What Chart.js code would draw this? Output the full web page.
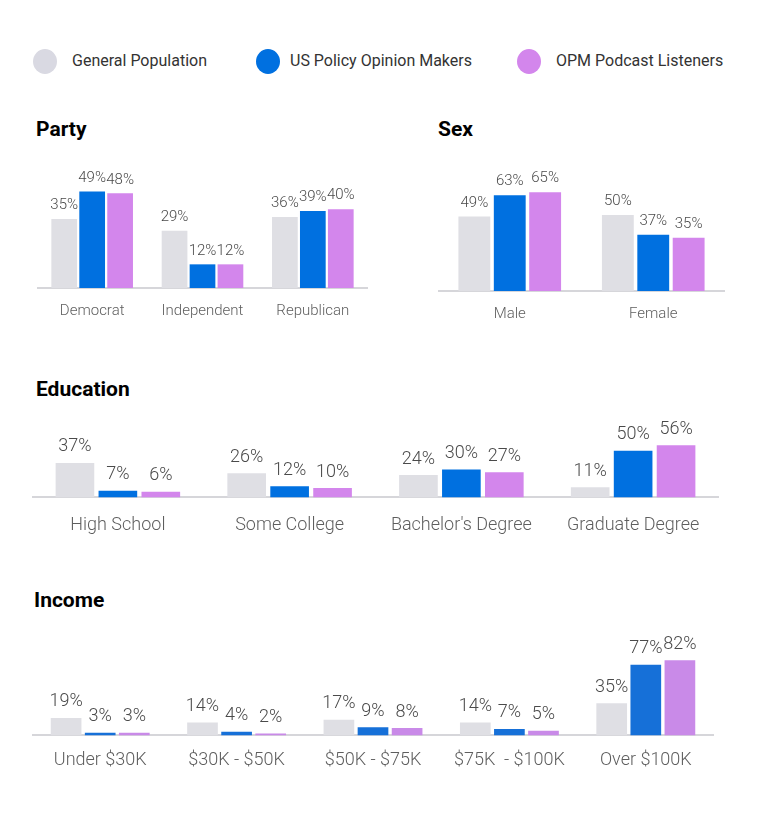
<!DOCTYPE html>
<html>
<head>
<meta charset="utf-8">
<script src="https://cdn.jsdelivr.net/npm/chart.js@4"></script>
<style>
  body { margin: 0; background: #fff; font-family: Roboto, sans-serif; }
  #page { position: relative; width: 760px; height: 817px; }
  .box { position: absolute; }
  .title { position: absolute; font: 700 21px Roboto, sans-serif; color: #000; }
  .leg { position: absolute; top: 49px; font: 400 16px Roboto, sans-serif; color: #333; line-height: 24px; }
  .leg span { position: absolute; top: 0; width: 24px; height: 25px; border-radius: 50%; }
  .leg b { position: absolute; white-space: nowrap; font-weight: 400; }
</style>
</head>
<body>
<div id="page">
  <div class="leg" style="left:33px"><span style="background:#d9d9e2"></span><b style="left:39px">General Population</b></div>
  <div class="leg" style="left:256px"><span style="background:#0070e0"></span><b style="left:34px">US Policy Opinion Makers</b></div>
  <div class="leg" style="left:517px"><span style="background:#d386ec"></span><b style="left:39px">OPM Podcast Listeners</b></div>

  <div class="title" style="left:36px;top:117px">Party</div>
  <div class="title" style="left:438px;top:117px">Sex</div>
  <div class="title" style="left:36px;top:377px">Education</div>
  <div class="title" style="left:34px;top:588px">Income</div>

  <div class="box" style="left:37px;top:130px;width:331px;height:204px"><canvas id="party"></canvas></div>
  <div class="box" style="left:438px;top:130px;width:287px;height:207px"><canvas id="sex"></canvas></div>
  <div class="box" style="left:32px;top:400px;width:687px;height:153px"><canvas id="edu"></canvas></div>
  <div class="box" style="left:32px;top:610px;width:682px;height:175px"><canvas id="income"></canvas></div>
</div>
<script>
const seriesNames = ['General Population', 'US Policy Opinion Makers', 'OPM Podcast Listeners'];

const partyLabels = ['Democrat', 'Independent', 'Republican'];
const partyGen = [35, 29, 36];
const partyOpm = [49, 12, 39];
const partyPod = [48, 12, 40];

const sexLabels = ['Male', 'Female'];
const sexGen = [49, 50];
const sexOpm = [63, 37];
const sexPod = [65, 35];

const eduLabels = ['High School', 'Some College', "Bachelor's Degree", 'Graduate Degree'];
const eduGen = [37, 26, 24, 11];
const eduOpm = [7, 12, 30, 50];
const eduPod = [6, 10, 27, 56];

const incomeLabels = ['Under $30K', '$30K - $50K', '$50K - $75K', '$75K  - $100K', 'Over $100K'];
const incomeGen = [19, 14, 17, 14, 35];
const incomeOpm = [3, 4, 9, 7, 77];
const incomePod = [3, 2, 8, 5, 82];

// draws the % value on top of every bar
const valueLabels = {
  id: 'valueLabels',
  afterDatasetsDraw(chart, args, opts) {
    const ctx = chart.ctx;
    ctx.save();
    ctx.font = '300 ' + opts.size + 'px Roboto, sans-serif';
    ctx.fillStyle = '#4a4a4a';
    ctx.textAlign = 'center';
    ctx.textBaseline = 'bottom';
    chart.data.datasets.forEach((ds, i) => {
      chart.getDatasetMeta(i).data.forEach((bar, j) => {
        ctx.fillText(ds.data[j] + '%', bar.x, bar.y - opts.gap);
      });
    });
    ctx.restore();
  }
};

const makeChart = (id, labels, gen, opm, pod, o) => {
  const colors = o.colors || ['#dfdfe4', '#0070e0', '#d386ec'];
  new Chart(document.getElementById(id), {
    type: 'bar',
    data: {
      labels,
      datasets: [gen, opm, pod].map((d, i) => ({
        label: seriesNames[i],
        data: d,
        backgroundColor: colors[i],
        barPercentage: o.bar,
        categoryPercentage: o.cat,
      })),
    },
    options: {
      responsive: true,
      maintainAspectRatio: false,
      animation: false,
      layout: { padding: { top: 20 } },
      plugins: {
        legend: { display: false },
        tooltip: { enabled: false },
        valueLabels: { size: o.size, gap: o.gap },
      },
      scales: {
        x: {
          grid: { display: false, drawTicks: false },
          border: { display: true, color: '#d6d6da', width: 2 },
          ticks: { color: '#5e5e5e', padding: o.pad, font: { family: 'Roboto', size: o.tick, weight: 300 } },
        },
        y: { display: false, min: 0, max: o.max },
      },
    },
    plugins: [valueLabels],
  });
};

makeChart('party', partyLabels, partyGen, partyOpm, partyPod, { max: 70, size: 15, tick: 15, pad: 14, gap: 6, bar: 0.92, cat: 0.76 });
makeChart('sex', sexLabels, sexGen, sexOpm, sexPod, { max: 92.7, size: 15, tick: 15, pad: 14, gap: 6, bar: 0.9, cat: 0.74 });
makeChart('edu', eduLabels, eduGen, eduOpm, eduPod, { max: 83, size: 18, tick: 18, pad: 17, gap: 7, bar: 0.9, cat: 0.75 });
makeChart('income', incomeLabels, incomeGen, incomeOpm, incomePod, { max: 115, size: 18, tick: 18, pad: 14, gap: 7, bar: 0.9, cat: 0.75, colors: ['#dfdfe4', '#1670d8', '#c98ae8'] });
</script>
</body>
</html>
